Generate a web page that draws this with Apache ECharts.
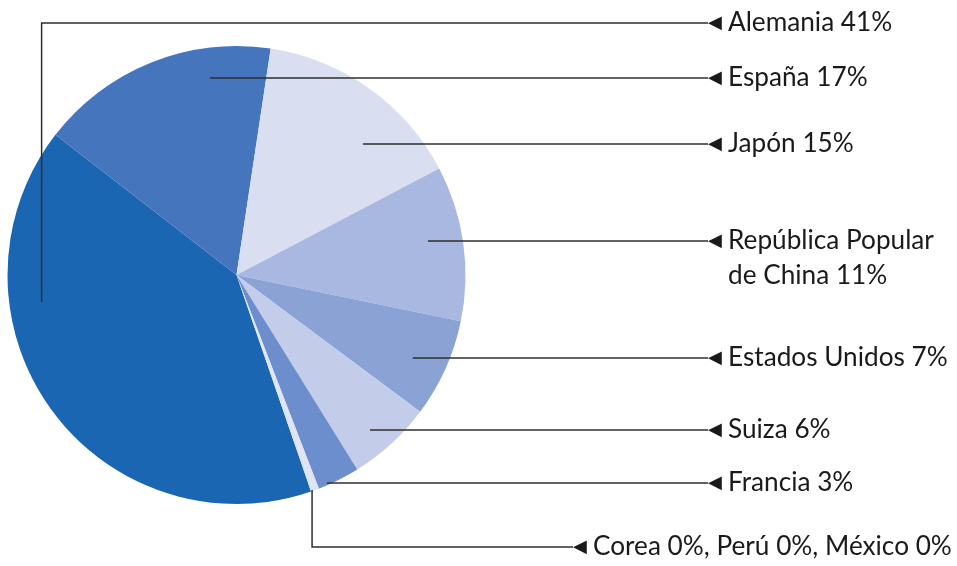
<!DOCTYPE html>
<html>
<head>
<meta charset="utf-8">
<script src="https://cdn.jsdelivr.net/npm/echarts@6/dist/echarts.min.js"></script>
<style>
  html, body { margin: 0; padding: 0; background: #fff; }
  #chart { width: 957px; height: 566px; }
</style>
</head>
<body>
<div id="chart"></div>
<script>
// Country of origin and its share of the total (%)
const countries = ['Alemania', 'España', 'Japón', 'República Popular\nde China', 'Estados Unidos',
                   'Suiza', 'Francia', 'Corea', 'Perú', 'México'];
const shares = [41, 17, 15, 11, 7, 6, 3, 0, 0, 0];
const sliceColors = ['#1a66b2', '#4475bd', '#d9def1', '#a9b8e0', '#8ba2d5',
                     '#c3cdea', '#6d8ecc', '#dde3f3', '#dde3f3', '#dde3f3'];

// Pie geometry in px
const PIE_CX = 236.5, PIE_CY = 275, PIE_R = 229;
const START_ANGLE = 289;
const MIN_ANGLE = 0.7;
const ROW_H = 35;
const LABEL_W = 220;            // width taken by the widest single-line label
const WIDEST_LABEL = 'Estados Unidos 7%';

// Callout layout: leader start inside the slice (fraction of radius from the centre),
// label row y and label column x. Entries are null where no label is drawn.
const callouts = [
  { ax: -0.851, ay: 0.118, y: 23,  x: 708 },
  { ax: -0.116, ay: null,  y: 78,  x: 708 },
  { ax: 0.552,  ay: null,  y: 144, x: 708 },
  { ax: 0.836,  ay: null,  y: 241, x: 708 },
  { ax: 0.770,  ay: null,  y: 358, x: 708 },
  { ax: 0.583,  ay: null,  y: 430, x: 708 },
  { ax: 0.395,  ay: null,  y: 483, x: 708 },
  { ax: 0.330,  ay: 0.939, y: 547, x: 573 },
  null,
  null
];

// Prefer a narrow sans; size it so the widest label fits its column
function pickFont() {
  const ctx = document.createElement('canvas').getContext('2d');
  const probe = 'Estados Unidos 7% mwMWil';
  ctx.font = '40px monospace';
  const mono = ctx.measureText(probe).width;
  const candidates = ['Liberation Sans Narrow', 'Lato', 'Roboto', 'Noto Sans', 'Liberation Sans'];
  let family = 'sans-serif';
  for (const f of candidates) {
    ctx.font = '40px "' + f + '", monospace';
    if (Math.abs(ctx.measureText(probe).width - mono) > 0.5) { family = '"' + f + '"'; break; }
  }
  ctx.font = '100px ' + family;
  const size = 100 * LABEL_W / ctx.measureText(WIDEST_LABEL).width;
  return { family: family + ', sans-serif', size: Math.round(size * 10) / 10 };
}
const labelFont = pickFont();

const firstZero = shares.indexOf(0);

function labelText(i) {
  let txt;
  if (i === firstZero) {
    txt = countries
      .map((n, k) => (shares[k] === 0 ? n + ' 0%' : null))
      .filter(Boolean)
      .join(', ');
  } else {
    txt = countries[i] + ' ' + shares[i] + '%';
  }
  return txt.split('\n')
    .map((line, k) => (k === 0 ? '{t|◀}' : '{p| }') + '{n|' + line + '}')
    .join('\n');
}

// Shared pie settings for the slice layer and the callout layer
const pieBase = {
  type: 'pie',
  center: [PIE_CX, PIE_CY],
  radius: PIE_R,
  startAngle: START_ANGLE,
  clockwise: true,
  minAngle: MIN_ANGLE,
  avoidLabelOverlap: false,
  silent: true,
  emphasis: { disabled: true }
};

const chart = echarts.init(document.getElementById('chart'), null, { renderer: 'canvas' });

chart.setOption({
  backgroundColor: '#ffffff',
  animation: false,
  series: [
    // Slices
    Object.assign({}, pieBase, {
      z: 2,
      itemStyle: { borderWidth: 0 },
      label: { show: false },
      labelLine: { show: false },
      data: countries.map((name, i) => ({
        name: name,
        value: shares[i],
        itemStyle: { color: sliceColors[i] }
      }))
    }),
    // Callouts drawn above the slices
    Object.assign({}, pieBase, {
      z: 5,
      itemStyle: { color: 'rgba(0,0,0,0)', borderWidth: 0 },
      label: {
        show: true,
        position: 'outside',
        formatter: p => labelText(p.dataIndex),
        rich: {
          t: { fontFamily: 'DejaVu Sans', fontSize: 18, width: 20, lineHeight: ROW_H,
               color: '#1a1a1a', verticalAlign: 'middle' },
          p: { width: 20, lineHeight: ROW_H, fontSize: 13 },
          n: { fontFamily: labelFont.family, fontSize: labelFont.size, lineHeight: ROW_H,
               color: '#1a1a1a', verticalAlign: 'middle' }
        }
      },
      labelLine: {
        show: true,
        length: 10,
        length2: 10,
        smooth: false,
        lineStyle: { color: '#2e2e2e', width: 1.5 }
      },
      labelLayout: p => {
        const c = callouts[p.dataIndex];
        if (!c) return {};
        const sx = PIE_CX + c.ax * PIE_R;
        const sy = c.ay === null ? c.y : PIE_CY + c.ay * PIE_R;
        return {
          x: c.x,
          y: c.y - ROW_H / 2,
          align: 'left',
          verticalAlign: 'top',
          labelLinePoints: [[sx, sy], [sx, c.y], [c.x, c.y]]
        };
      },
      data: countries.map((name, i) => ({
        name: name,
        value: shares[i],
        label: { show: callouts[i] !== null },
        labelLine: { show: callouts[i] !== null }
      }))
    })
  ]
});
</script>
</body>
</html>
